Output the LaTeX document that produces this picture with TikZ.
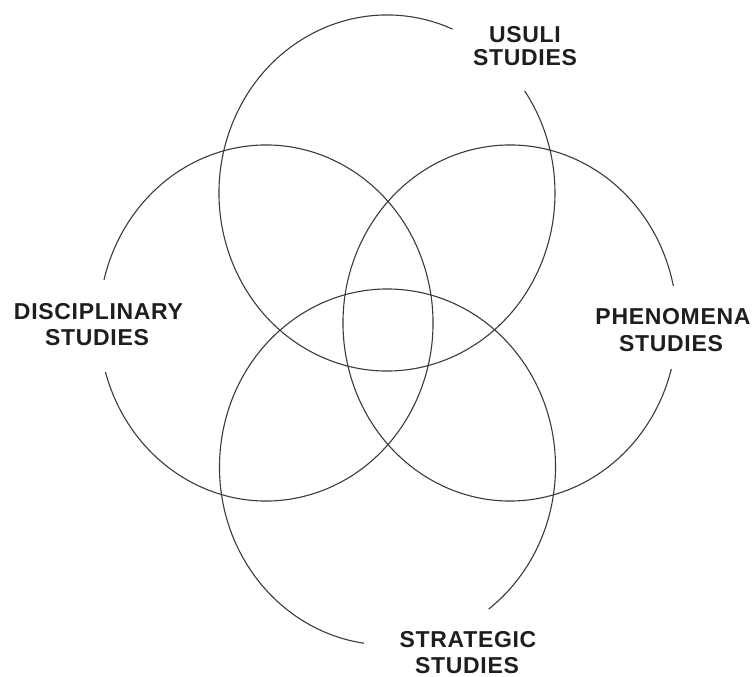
\documentclass[tikz,border=0pt]{standalone}
\usepackage{fontspec}
\setmainfont{Liberation Sans}
\newfontfamily\lblfont[LetterSpace=3]{Liberation Sans}
\definecolor{linegray}{HTML}{3A3A3A}
\definecolor{textdark}{HTML}{1E1E1E}
\tikzset{
  ring/.style={draw=linegray, line width=1.1pt},
  lbl/.style={anchor=base, inner sep=0pt, text=textdark, font=\lblfont\fontsize{23}{26}\selectfont\bfseries}
}
\begin{document}
\begin{tikzpicture}[x=1pt,y=1pt]
\useasboundingbox (0,0) rectangle (752,677);
% centres
\coordinate (ctop) at (387,484);
\coordinate (cleft) at (266,354);
\coordinate (cright) at (510,354);
\coordinate (cbot) at (387.5,210);
% rings with gaps for labels
\draw[ring] ([shift={(67:168 and 178)}]ctop) arc[start angle=67,end angle=395,x radius=168,y radius=178];
\draw[ring] ([shift={(196:167 and 178)}]cleft) arc[start angle=196,end angle=526,x radius=167,y radius=178];
\draw[ring] ([shift={(12:167 and 178)}]cright) arc[start angle=12,end angle=345,x radius=167,y radius=178];
\draw[ring] ([shift={(307:168 and 178)}]cbot) arc[start angle=307,end angle=622,x radius=168,y radius=178];
% labels
\node[lbl] (usuliA) at (525,634) {USULI};
\node[lbl] (usuliB) at (525,611) {STUDIES};
\node[lbl] (discA) at (98.5,357.5) {DISCIPLINARY};
\node[lbl] (discB) at (97,331) {STUDIES};
\node[lbl] (phenA) at (673,352) {PHENOMENA};
\node[lbl] (phenB) at (671,325.5) {STUDIES};
\node[lbl] (stratA) at (468,29) {STRATEGIC};
\node[lbl] (stratB) at (467,3.5) {STUDIES};
\end{tikzpicture}
\end{document}
